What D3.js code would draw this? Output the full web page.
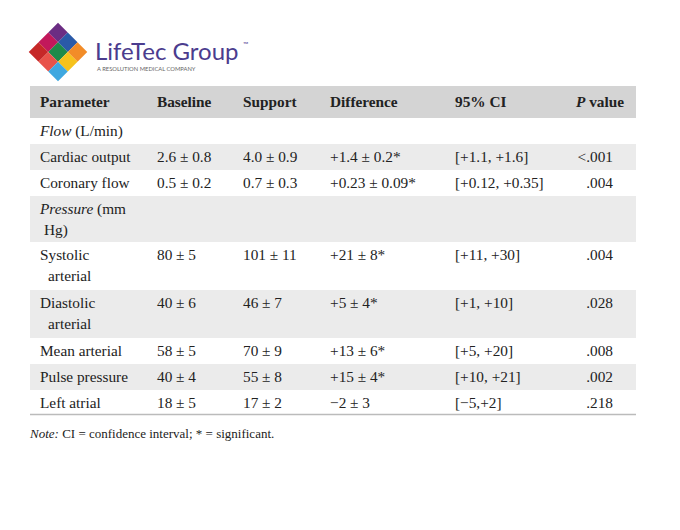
<!DOCTYPE html>
<html><head><meta charset="utf-8">
<script src="https://cdn.jsdelivr.net/npm/d3@7"></script>
<style>body{margin:0;background:#fff}</style>
</head><body><svg></svg>
<script>
let headers = ["Parameter", "Baseline", "Support", "Difference", "95% CI", "P value"]
let params = ["Flow|(L/min)", "Cardiac output", "Coronary flow", "Pressure|(mm|Hg)", "Systolic|arterial", "Diastolic|arterial", "Mean arterial", "Pulse pressure", "Left atrial"]
let baseline = ["", "2.6 ± 0.8", "0.5 ± 0.2", "", "80 ± 5", "40 ± 6", "58 ± 5", "40 ± 4", "18 ± 5"]
let support = ["", "4.0 ± 0.9", "0.7 ± 0.3", "", "101 ± 11", "46 ± 7", "70 ± 9", "55 ± 8", "17 ± 2"]
let difference = ["", "+1.4 ± 0.2*", "+0.23 ± 0.09*", "", "+21 ± 8*", "+5 ± 4*", "+13 ± 6*", "+15 ± 4*", "−2 ± 3"]
let ci = ["", "[+1.1, +1.6]", "[+0.12, +0.35]", "", "[+11, +30]", "[+1, +10]", "[+5, +20]", "[+10, +21]", "[−5,+2]"]
let pvals = ["", "<.001", ".004", "", ".004", ".028", ".008", ".002", ".218"]
let rowHeights = [26, 26, 26, 46, 48, 48, 26, 26, 24]

let width = 680, height = 530
let fs = 15.3
let svg = d3.select('svg').attr('width', width).attr('height', height)
  .style('font-family', '"Liberation Serif", "Times New Roman", serif')

// logo
let logo = svg.append('g').attr('transform', 'translate(58,52) rotate(45)')
let logoColors = [["#6b2d83", "#2a5aa8", "#f28c28"], ["#c2185b", "#1e8a4a", "#f6c21c"], ["#c62828", "#e8534a", "#3fa8e0"]]
let sq = 13.8
logoColors.forEach((row, i) => row.forEach((c, j) => {
  logo.append('rect').attr('x', -1.5 * sq + j * sq).attr('y', -1.5 * sq + i * sq)
    .attr('width', sq).attr('height', sq).attr('fill', c)
}))
svg.append('text').attr('x', 95).attr('y', 60).text('LifeTec Group')
  .attr('font-family', 'Lato, sans-serif').attr('font-size', 24).attr('fill', '#4b3c8e')
svg.append('text').attr('x', 243).attr('y', 47).text('™')
  .attr('font-family', 'Lato, sans-serif').attr('font-size', 7).attr('fill', '#4b3c8e')
svg.append('text').attr('x', 97).attr('y', 71).text('A RESOLUTION MEDICAL COMPANY')
  .attr('font-family', 'Lato, sans-serif').attr('font-size', 5.8).attr('fill', '#666')

let left = 30, right = 636
let colX = [40, 157, 243, 330, 455, 624]
let tableTop = 86, headH = 32

svg.append('rect').attr('x', left).attr('y', tableTop).attr('width', right - left).attr('height', headH).attr('fill', '#d4d4d4')
headers.forEach((h, i) => {
  let t = svg.append('text').attr('x', colX[i]).attr('y', tableTop + 21).attr('font-size', fs)
    .attr('font-weight', 'bold').attr('fill', '#222')
    .attr('text-anchor', i == 5 ? 'end' : 'start')
  if (i == 5) { t.append('tspan').attr('font-style', 'italic').text('P'); t.append('tspan').text(' value') }
  else t.text(h)
})

let y = tableTop + headH
let cols = [baseline, support, difference, ci]
params.forEach((p, r) => {
  let h = rowHeights[r]
  if (r % 2 == 1) svg.append('rect').attr('x', left).attr('y', y).attr('width', right - left).attr('height', h).attr('fill', '#ebebeb')
  let parts = p.split('|')
  let by = y + 18
  if (r == 0 || r == 3) {
    let t = svg.append('text').attr('x', colX[0]).attr('y', by).attr('font-size', fs).attr('fill', '#222')
    t.append('tspan').attr('font-style', 'italic').text(parts[0])
    t.append('tspan').text(' ' + parts[1])
    if (parts[2]) svg.append('text').attr('x', colX[0] + 4).attr('y', by + 21).attr('font-size', fs).attr('fill', '#222').text(parts[2])
  } else {
    svg.append('text').attr('x', colX[0]).attr('y', by).attr('font-size', fs).attr('fill', '#222').text(parts[0])
    if (parts[1]) svg.append('text').attr('x', colX[0] + 8).attr('y', by + 21).attr('font-size', fs).attr('fill', '#222').text(parts[1])
  }
  cols.forEach((c, i) => {
    svg.append('text').attr('x', colX[i + 1]).attr('y', by).attr('font-size', fs).attr('fill', '#222').text(c[r])
  })
  svg.append('text').attr('x', 613).attr('y', by).attr('text-anchor', 'end').attr('font-size', fs).attr('fill', '#222').text(pvals[r])
  y += h
})
svg.append('line').attr('x1', left).attr('x2', right).attr('y1', y + 0.5).attr('y2', y + 0.5).attr('stroke', '#bbb').attr('stroke-width', 1.5)

let note = svg.append('text').attr('x', 30).attr('y', y + 24).attr('font-size', 13).attr('fill', '#222')
note.append('tspan').attr('font-style', 'italic').text('Note:')
note.append('tspan').text(' CI = confidence interval; * = significant.')
</script></body></html>
